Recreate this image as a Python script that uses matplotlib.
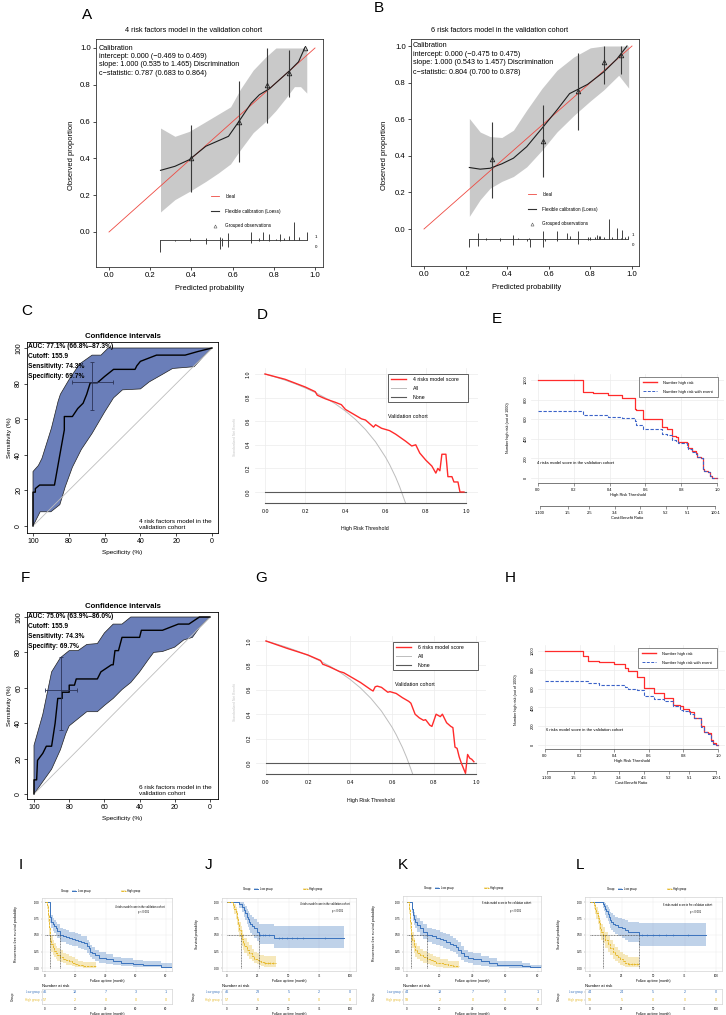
#!/usr/bin/env python3
import matplotlib
matplotlib.use('Agg')
import matplotlib.pyplot as plt
from matplotlib.lines import Line2D
from matplotlib.patches import Patch
import numpy as np

plt.rcParams['font.family'] = ['Liberation Sans', 'DejaVu Sans']
plt.rcParams['axes.linewidth'] = 0.6

W, H = 726, 1015

## ---------- data ----------
# A: calibration, 4 risk factors
a_band_x = [0.25, 0.32, 0.39, 0.47, 0.53, 0.59, 0.64, 0.70, 0.76, 0.81, 0.86, 0.90, 0.93, 0.96]
a_band_hi = [0.565, 0.52, 0.547, 0.60, 0.64, 0.68, 0.78, 0.88, 0.95, 1.0, 1.0, 1.0, 1.0, 1.0]
a_band_lo = [0.109, 0.176, 0.22, 0.275, 0.32, 0.37, 0.45, 0.54, 0.60, 0.66, 0.73, 0.79, 0.79, 0.755]
a_loess_x = [0.25, 0.32, 0.39, 0.47, 0.58, 0.63, 0.69, 0.73, 0.78, 0.83, 0.88, 0.92, 0.95]
a_loess_y = [0.335, 0.357, 0.393, 0.466, 0.52, 0.60, 0.70, 0.746, 0.78, 0.83, 0.88, 0.925, 1.0]
a_grp_x = [0.40, 0.632, 0.767, 0.876, 0.951]
a_grp_y = [0.40, 0.60, 0.80, 0.866, 1.0]
a_grp_lo = [0.22, 0.38, 0.595, 0.735, 1.0]
a_grp_hi = [0.58, 0.82, 1.0, 0.99, 1.0]
a_ev_x = [0.393, 0.469, 0.539, 0.55, 0.579, 0.689, 0.73, 0.749, 0.778, 0.81, 0.83, 0.85, 0.874, 0.90, 0.921, 0.96]
a_ev_h = [0.01, 0.01, 0.02, 0.01, 0.04, 0.045, 0.01, 0.045, 0.035, 0.005, 0.035, 0.015, 0.025, 0.098, 0.02, 0.045]
a_ne_x = [0.248, 0.32, 0.393, 0.469, 0.539, 0.55, 0.579, 0.689, 0.73, 0.778, 0.83]
a_ne_h = [0.065, 0.005, 0.005, 0.02, 0.045, 0.03, 0.035, 0.015, 0.005, 0.005, 0.005]
a_stats = ['Calibration', 'intercept: 0.000 (\u22120.469 to 0.469)',
           'slope: 1.000 (0.535 to 1.465) Discrimination', 'c\u2212statistic: 0.787 (0.683 to 0.864)']

# B: calibration, 6 risk factors
b_band_x = [0.218, 0.27, 0.318, 0.374, 0.43, 0.494, 0.567, 0.639, 0.72, 0.80, 0.864, 0.936, 0.984]
b_band_hi = [0.604, 0.53, 0.505, 0.50, 0.54, 0.65, 0.768, 0.867, 0.94, 0.99, 1.0, 1.0, 1.0]
b_band_lo = [0.069, 0.16, 0.223, 0.26, 0.287, 0.34, 0.43, 0.53, 0.62, 0.70, 0.76, 0.84, 0.77]
b_loess_x = [0.218, 0.27, 0.318, 0.374, 0.43, 0.494, 0.567, 0.639, 0.70, 0.738, 0.786, 0.864, 0.928, 0.976]
b_loess_y = [0.336, 0.327, 0.332, 0.356, 0.387, 0.45, 0.55, 0.65, 0.74, 0.762, 0.79, 0.858, 0.93, 1.0]
b_grp_x = [0.326, 0.570, 0.738, 0.864, 0.947]
b_grp_y = [0.381, 0.483, 0.755, 0.91, 0.95]
b_grp_lo = [0.169, 0.283, 0.54, 0.79, 0.846]
b_grp_hi = [0.586, 0.677, 0.964, 1.0, 1.0]
b_ev_x = [0.262, 0.30, 0.366, 0.43, 0.454, 0.507, 0.57, 0.639, 0.687, 0.70, 0.738, 0.79, 0.80, 0.823,
          0.83, 0.84, 0.848, 0.864, 0.888, 0.904, 0.928, 0.947, 0.95, 0.968, 0.98]
b_ev_h = [0.03, 0.005, 0.005, 0.02, 0.005, 0.005, 0.04, 0.04, 0.03, 0.015, 0.04, 0.01, 0.01, 0.01,
          0.02, 0.015, 0.015, 0.01, 0.11, 0.01, 0.06, 0.005, 0.05, 0.01, 0.015]
b_ne_x = [0.218, 0.262, 0.30, 0.366, 0.43, 0.494, 0.51, 0.57, 0.583, 0.639, 0.738, 0.79, 0.80]
b_ne_h = [0.045, 0.04, 0.005, 0.01, 0.035, 0.01, 0.045, 0.045, 0.01, 0.01, 0.03, 0.005, 0.005]
b_stats = ['Calibration', 'intercept: 0.000 (\u22120.475 to 0.475)',
           'slope: 1.000 (0.543 to 1.457) Discrimination', 'c\u2212statistic: 0.804 (0.700 to 0.878)']

# C / F: ROC curves (specificity %, sensitivity %)
c_spec = [100, 100, 98.7, 98.7, 96.3, 88, 85, 82.5, 82.5, 78, 75, 72, 70, 68, 64, 60, 55, 43, 42, 40, 31, 20, 15, 8, 0]
c_sens = [0, 19, 19, 21, 23, 23, 40, 54, 61.5, 61.5, 66, 69, 74, 80.5, 80.5, 84, 88, 88, 90, 92.5, 96, 96, 96, 98, 100]
c_up_spec = [100, 100, 97, 95, 89.7, 86, 84.7, 80, 74, 67, 62, 58, 0]
c_up_sens = [0, 30.6, 34, 38, 55, 70, 74, 82, 91, 96, 96, 100, 100]
c_lo_spec = [100, 96, 90, 85, 82, 78, 73, 67, 60, 55, 50, 40, 35, 28, 22, 10, 5, 0]
c_lo_sens = [0, 8, 8, 12, 22, 33, 43, 52, 64, 72, 76.5, 77, 81, 85, 88.5, 89.5, 95, 100]
c_cross = (67.3, 80.7, 55.5, 78.0, 65.3, 92.1)
c_text = ['AUC: 77.1% (66.8%\u201387.3%)', 'Cutoff: 155.9', 'Sensitivity: 74.3%', 'Specificity: 69.7%']

f_spec = [100, 100, 98.5, 98, 95, 93, 90, 88, 86.5, 84, 84, 80, 80, 77, 76, 64, 62, 56, 55, 54, 52, 50, 40, 39, 27, 18, 12, 6, 0]
f_sens = [0, 8, 8, 19, 23, 27, 27, 40, 54, 54, 57.5, 57.5, 61.5, 61.5, 65, 65, 69, 73, 73, 81, 81, 88.5, 88.5,
          92.5, 92.5, 96, 96, 100, 100]
f_up_spec = [100, 100, 95, 90, 85, 80, 75, 70, 64, 60, 55, 50, 45, 0]
f_up_sens = [0, 27.5, 45, 69, 77, 81, 81, 84.5, 85, 91, 96, 96, 100, 100]
f_lo_spec = [100, 95, 90, 85, 82, 80, 75, 70, 64, 60, 55, 50, 45, 40, 35, 32, 27, 20, 15, 10, 6, 3, 0]
f_lo_sens = [0, 7, 14, 25, 34, 38.5, 42.5, 46.5, 46.5, 50, 54, 59, 63, 69, 76, 80, 80.5, 83, 87, 88.5, 94, 97, 100]
f_cross = (84.4, 59.0, 75.6, 93.5, 36.0, 77.5)
f_text = ['AUC: 75.0% (63.9%\u201386.0%)', 'Cutoff: 155.9', 'Sensitivity: 74.3%', 'Specifity: 69.7%']

# D / G: decision curves
all_thr = [0, 0.05, 0.1, 0.15, 0.2, 0.25, 0.3, 0.35, 0.4, 0.45, 0.5, 0.55, 0.6, 0.62, 0.65, 0.67, 0.69, 0.70]
all_nb = [1.0, 0.975, 0.948, 0.917, 0.882, 0.843, 0.798, 0.747, 0.686, 0.615, 0.529, 0.425, 0.294, 0.232,
          0.126, 0.044, -0.05, -0.098]
none_thr = [0, 1]
none_nb = [0, 0]
d_thr = [0, 0.1, 0.2, 0.25, 0.26, 0.3, 0.35, 0.38, 0.40, 0.45, 0.48, 0.50, 0.54, 0.55, 0.58, 0.62, 0.65, 0.70,
         0.73, 0.75, 0.77, 0.80, 0.83, 0.85, 0.86, 0.87, 0.88, 0.90, 0.91, 0.93, 0.94, 0.96, 0.97, 0.99]
d_nb = [1.0, 0.955, 0.89, 0.85, 0.82, 0.79, 0.76, 0.74, 0.70, 0.65, 0.62, 0.61, 0.55, 0.57, 0.54, 0.52, 0.49,
        0.43, 0.39, 0.40, 0.33, 0.27, 0.22, 0.16, 0.20, 0.18, 0.32, 0.32, 0.13, 0.13, 0.085, 0.085, 0.0, 0.0]
g_thr = [0, 0.1, 0.2, 0.26, 0.27, 0.3, 0.35, 0.37, 0.4, 0.45, 0.5, 0.51, 0.52, 0.53, 0.55, 0.58, 0.59, 0.62,
         0.65, 0.68, 0.69, 0.71, 0.73, 0.75, 0.76, 0.78, 0.79, 0.81, 0.83, 0.84, 0.86, 0.88, 0.89, 0.90, 0.91,
         0.92, 0.93, 0.95, 0.96, 0.97, 0.98, 0.99]
g_nb = [1.0, 0.94, 0.885, 0.84, 0.81, 0.79, 0.75, 0.74, 0.71, 0.66, 0.60, 0.59, 0.625, 0.63, 0.62, 0.58, 0.585,
        0.57, 0.535, 0.505, 0.49, 0.40, 0.37, 0.35, 0.355, 0.31, 0.30, 0.40, 0.38, 0.40, 0.33, 0.30, 0.29, 0.13,
        0.12, 0.05, 0.0, -0.085, 0.07, 0.04, 0.03, 0.01]

# E / H: clinical impact curves (out of 1000)
e_thr = [0, 0.25, 0.31, 0.39, 0.47, 0.54, 0.55, 0.585, 0.69, 0.72, 0.75, 0.77, 0.78, 0.83, 0.84, 0.86, 0.88,
         0.89, 0.91, 0.92, 0.93, 0.95, 0.96, 0.97, 1.0]
e_high = [1000, 880, 870, 845, 815, 700, 690, 600, 520, 500, 430, 420, 370, 360, 310, 280, 260, 210, 200, 90,
          70, 60, 20, 0, 0]
e_event = [680, 640, 640, 625, 610, 580, 540, 505, 450, 440, 390, 380, 360, 320, 300, 270, 250, 210, 200, 90,
           70, 60, 20, 0, 0]
h_thr = [0, 0.22, 0.25, 0.31, 0.40, 0.46, 0.48, 0.53, 0.57, 0.63, 0.69, 0.74, 0.78, 0.80, 0.83, 0.84, 0.86,
         0.90, 0.92, 0.94, 0.96, 0.97, 0.99, 1.0]
h_high = [1000, 950, 890, 880, 860, 820, 790, 720, 610, 550, 500, 430, 420, 380, 360, 350, 290, 200, 140, 130,
          50, 20, 0, 0]
h_event = [680, 680, 660, 640, 640, 620, 600, 580, 520, 490, 470, 410, 370, 360, 350, 330, 290, 190, 140, 120,
           40, 10, 0, 0]
cb_pos = [0.0099, 0.1667, 0.2857, 0.4286, 0.5714, 0.7143, 0.8333, 0.9901]
cb_lab = ['1:100', '1:5', '2:5', '3:4', '4:3', '5:2', '5:1', '100:1']

# I-L: Kaplan-Meier curves
i_lt = [0, 3, 3.5, 4, 5, 6, 7, 8, 10, 12, 14, 16, 18, 20, 22, 24, 26, 28, 29, 30, 31, 33, 36, 40, 45, 50, 58, 65, 77, 84]
i_ls = [1.0, 0.90, 0.78, 0.70, 0.66, 0.63, 0.60, 0.56, 0.50, 0.49, 0.47, 0.45, 0.44, 0.43, 0.41, 0.39, 0.38, 0.33,
        0.30, 0.25, 0.22, 0.19, 0.15, 0.13, 0.10, 0.08, 0.06, 0.05, 0.02, 0.02]
i_lhi = [1.0, 0.97, 0.88, 0.80, 0.76, 0.73, 0.70, 0.66, 0.60, 0.59, 0.57, 0.55, 0.54, 0.53, 0.51, 0.49, 0.48, 0.43,
         0.40, 0.35, 0.32, 0.28, 0.24, 0.21, 0.17, 0.15, 0.12, 0.11, 0.07, 0.07]
i_llo = [1.0, 0.82, 0.68, 0.60, 0.56, 0.53, 0.50, 0.46, 0.40, 0.39, 0.37, 0.35, 0.34, 0.33, 0.31, 0.29, 0.28, 0.23,
         0.20, 0.16, 0.13, 0.11, 0.08, 0.06, 0.04, 0.03, 0.02, 0.01, 0.0, 0.0]
i_ht = [0, 1.5, 2, 2.5, 3, 3.5, 4, 5, 6, 7, 8, 10, 12, 14, 16, 18, 20, 22, 25, 34]
i_hs = [1.0, 0.95, 0.80, 0.62, 0.50, 0.42, 0.36, 0.30, 0.26, 0.22, 0.20, 0.17, 0.14, 0.12, 0.10, 0.08, 0.06, 0.04, 0.03, 0.03]
i_hhi = [1.0, 1.0, 0.90, 0.74, 0.63, 0.55, 0.49, 0.42, 0.38, 0.33, 0.30, 0.27, 0.23, 0.21, 0.18, 0.16, 0.13, 0.10, 0.09, 0.09]
i_hlo = [1.0, 0.90, 0.70, 0.50, 0.38, 0.30, 0.25, 0.20, 0.16, 0.13, 0.11, 0.09, 0.07, 0.05, 0.04, 0.03, 0.02, 0.01, 0.0, 0.0]
i_med = [10, 3]

j_lt = [0, 10, 12, 14, 15, 16, 17, 18, 19, 20, 22, 24, 26, 38, 95]
j_ls = [1.0, 0.97, 0.93, 0.88, 0.83, 0.78, 0.74, 0.70, 0.66, 0.64, 0.60, 0.55, 0.50, 0.46, 0.46]
j_lhi = [1.0, 1.0, 1.0, 0.97, 0.94, 0.90, 0.87, 0.84, 0.80, 0.78, 0.75, 0.70, 0.66, 0.63, 0.63]
j_llo = [1.0, 0.91, 0.85, 0.78, 0.72, 0.67, 0.62, 0.57, 0.53, 0.50, 0.46, 0.41, 0.37, 0.31, 0.31]
j_ht = [0, 5, 6, 7, 8, 9, 10, 11, 12, 13, 14, 16, 18, 20, 22, 24, 26, 28, 30, 40]
j_hs = [1.0, 0.95, 0.90, 0.83, 0.75, 0.66, 0.58, 0.50, 0.44, 0.38, 0.33, 0.28, 0.23, 0.18, 0.14, 0.12, 0.10, 0.09, 0.08, 0.08]
j_hhi = [1.0, 1.0, 0.97, 0.92, 0.86, 0.78, 0.70, 0.63, 0.57, 0.51, 0.46, 0.40, 0.35, 0.29, 0.25, 0.22, 0.20, 0.19, 0.18, 0.18]
j_hlo = [1.0, 0.89, 0.82, 0.74, 0.65, 0.55, 0.47, 0.39, 0.33, 0.27, 0.22, 0.18, 0.14, 0.10, 0.07, 0.06, 0.04, 0.03, 0.02, 0.02]
j_med = [26, 11]
j_cens_low = [27, 29, 31, 34, 42, 45, 49, 53, 57, 62, 80]
j_cens_high = [31, 33, 35, 37]

k_lt = [0, 3, 3.5, 4, 5, 6, 8, 10, 12, 15, 18, 20, 22, 24, 26, 28, 30, 31, 33, 35, 37, 40, 45, 50, 55, 62, 70, 75, 85]
k_ls = [1.0, 0.90, 0.80, 0.75, 0.70, 0.65, 0.60, 0.55, 0.50, 0.48, 0.46, 0.44, 0.42, 0.40, 0.37, 0.35, 0.32, 0.28,
        0.22, 0.18, 0.15, 0.13, 0.10, 0.08, 0.05, 0.04, 0.03, 0.01, 0.01]
k_lhi = [1.0, 0.97, 0.89, 0.85, 0.80, 0.76, 0.71, 0.66, 0.61, 0.59, 0.57, 0.55, 0.53, 0.51, 0.48, 0.46, 0.43, 0.39,
         0.33, 0.28, 0.25, 0.22, 0.18, 0.15, 0.11, 0.10, 0.08, 0.05, 0.05]
k_llo = [1.0, 0.83, 0.71, 0.65, 0.60, 0.54, 0.49, 0.44, 0.39, 0.37, 0.35, 0.33, 0.31, 0.29, 0.26, 0.24, 0.21, 0.17,
         0.12, 0.09, 0.07, 0.05, 0.03, 0.02, 0.01, 0.0, 0.0, 0.0, 0.0]
k_ht = [0, 1.5, 2, 2.5, 3, 4, 5, 6, 8, 10, 12, 14, 16, 18, 20, 22, 25, 28, 32]
k_hs = [1.0, 0.90, 0.70, 0.50, 0.42, 0.33, 0.27, 0.23, 0.19, 0.16, 0.14, 0.12, 0.10, 0.08, 0.07, 0.06, 0.04, 0.03, 0.03]
k_hhi = [1.0, 0.98, 0.81, 0.62, 0.54, 0.45, 0.38, 0.34, 0.29, 0.26, 0.23, 0.21, 0.18, 0.16, 0.14, 0.13, 0.11, 0.10, 0.10]
k_hlo = [1.0, 0.82, 0.59, 0.38, 0.30, 0.22, 0.17, 0.13, 0.10, 0.07, 0.06, 0.04, 0.03, 0.02, 0.01, 0.0, 0.0, 0.0, 0.0]
k_med = [12, 2.5]

l_lt = [0, 10, 11, 12, 13, 14, 15, 16, 17, 18, 20, 22, 25, 28, 30, 35, 39, 92]
l_ls = [1.0, 0.97, 0.94, 0.90, 0.86, 0.82, 0.78, 0.73, 0.70, 0.67, 0.65, 0.62, 0.60, 0.57, 0.55, 0.54, 0.50, 0.50]
l_lhi = [1.0, 1.0, 1.0, 0.98, 0.95, 0.92, 0.89, 0.85, 0.83, 0.80, 0.78, 0.76, 0.74, 0.72, 0.70, 0.69, 0.68, 0.68]
l_llo = [1.0, 0.91, 0.86, 0.81, 0.76, 0.71, 0.66, 0.61, 0.57, 0.54, 0.51, 0.48, 0.46, 0.42, 0.40, 0.39, 0.34, 0.34]
l_ht = [0, 3, 4, 5, 6, 7, 8, 9, 10, 12, 14, 16, 18, 20, 22, 24, 26, 28, 30, 39]
l_hs = [1.0, 0.95, 0.90, 0.83, 0.76, 0.68, 0.60, 0.55, 0.50, 0.42, 0.36, 0.30, 0.25, 0.20, 0.16, 0.13, 0.10, 0.08, 0.06, 0.06]
l_hhi = [1.0, 1.0, 0.97, 0.92, 0.86, 0.79, 0.72, 0.67, 0.62, 0.55, 0.48, 0.42, 0.37, 0.32, 0.27, 0.24, 0.21, 0.19, 0.17, 0.17]
l_hlo = [1.0, 0.89, 0.82, 0.74, 0.66, 0.57, 0.48, 0.43, 0.38, 0.30, 0.24, 0.19, 0.14, 0.10, 0.07, 0.05, 0.03, 0.02, 0.01, 0.01]
l_med = [39, 10]
l_cens_low = [41, 45, 50, 55, 60, 66, 78]
l_cens_high = [31, 33, 35, 37]

ticks_80 = [0, 20, 40, 60, 80]
ticks_100 = [0, 25, 50, 75, 100]
i_risk = ([46, 18, 7, 3, 1], [57, 2, 0, 0, 0])
j_risk = ([46, 23, 5, 2, 0], [57, 6, 0, 0, 0])
k_risk = ([44, 18, 7, 3, 1], [59, 2, 0, 0, 0])
l_risk = ([44, 24, 5, 2, 0], [59, 5, 0, 0, 0])

BLUE = '#3A73BD'
YEL = '#E6B92C'
RED = '#FF2B2B'

fig = plt.figure(figsize=(W / 100, H / 100), dpi=100)


def place(l, t, r, b, xmap, ymap):
    # axes from a pixel box; xmap/ymap = (pixel0, value0, pixel1, value1)
    ax = fig.add_axes([l / W, 1 - b / H, (r - l) / W, (b - t) / H])
    p0, v0, p1, v1 = xmap
    k = (v1 - v0) / (p1 - p0)
    ax.set_xlim(v0 + (l - p0) * k, v0 + (r - p0) * k)
    p0, v0, p1, v1 = ymap
    k = (v1 - v0) / (p1 - p0)
    ax.set_ylim(v0 + (b - p0) * k, v0 + (t - p0) * k)
    ax._box = (l, t, r, b)
    return ax


def ftext(x, y, s, **kw):
    kw.setdefault('va', 'center')
    return fig.text(x / W, 1 - y / H, s, **kw)


def fpos(x, y):
    return (x / W, 1 - y / H)


def label_at(axis, ax, x, y):
    l, t, r, b = ax._box
    axis.set_label_coords((x - l) / (r - l), (b - y) / (b - t))


## ---------- calibration ----------
def calib(ax, bx, blo, bhi, lx, ly, gx, gy, glo, ghi, evx, evh, nex, neh, base, leg):
    ax.fill_between(bx, blo, bhi, color='#C9C9C9', lw=0)
    ax.plot([0, 1], [0, 1], color='#EE4A42', lw=0.6)
    ax.plot(lx, ly, color='#1E1E1E', lw=0.8)
    ax.vlines(gx, glo, ghi, color='#3A3A3A', lw=0.8)
    ax.plot(gx, gy, '^', ms=3.3, mfc='none', mec='#222222', mew=0.6, ls='none')
    allx = evx + nex
    ax.plot([min(allx), max(allx)], [base, base], color='#333333', lw=0.6)
    ax.vlines(evx, base, np.asarray(evh) + base, color='#222222', lw=0.6)
    ax.vlines(nex, base - np.asarray(neh), base, color='#222222', lw=0.6)
    ax.text(1.0, base + 0.02, '1', fontsize=3.2, ha='left', va='center')
    ax.text(1.0, base - 0.035, '0', fontsize=3.2, ha='left', va='center')
    ax.set_xticks(np.arange(0, 1.01, 0.2))
    ax.set_yticks(np.arange(0, 1.01, 0.2))
    ax.xaxis.set_major_formatter('{x:.1f}')
    ax.yaxis.set_major_formatter('{x:.1f}')
    ax.tick_params(labelsize=5.6, length=2.2, width=0.5, pad=1.5)
    for s in ax.spines.values():
        s.set_color('#333333')
    h = [Line2D([], [], color='#EE4A42', lw=0.6), Line2D([], [], color='#333333', lw=0.8),
         Line2D([], [], marker='^', ms=2.2, mfc='none', mec='#555555', mew=0.4, ls='none')]
    ax.legend(h, ['Ideal', 'Flexible calibration (Loess)', 'Grouped observations'], loc='upper left',
              bbox_to_anchor=fpos(*leg), bbox_transform=fig.transFigure, frameon=False, fontsize=3.3,
              handlelength=1.8, handletextpad=1.3, labelspacing=2.1, borderaxespad=0, borderpad=0)


ax = place(96, 39, 323, 267, (109, 0, 315, 1), (232, 0, 48, 1))
calib(ax, a_band_x, a_band_lo, a_band_hi, a_loess_x, a_loess_y, a_grp_x, a_grp_y, a_grp_lo, a_grp_hi,
      a_ev_x, a_ev_h, a_ne_x, a_ne_h, -0.045, (211, 194))
ax.set_xlabel('Predicted probability', fontsize=5.4)
ax.set_ylabel('Observed proportion', fontsize=5.4)
label_at(ax.xaxis, ax, 210, 285)
label_at(ax.yaxis, ax, 75, 155)
ftext(194, 30, '4 risk factors model in the validation cohort', fontsize=5.2, ha='center')
for i, s in enumerate(a_stats):
    ftext(99, 48 + i * 8.4, s, fontsize=5.2)

ax = place(411, 39, 639, 266, (424, 0, 632, 1), (229, 0, 46, 1))
calib(ax, b_band_x, b_band_lo, b_band_hi, b_loess_x, b_loess_y, b_grp_x, b_grp_y, b_grp_lo, b_grp_hi,
      b_ev_x, b_ev_h, b_ne_x, b_ne_h, -0.053, (528, 192))
ax.set_xlabel('Predicted probability', fontsize=5.4)
ax.set_ylabel('Observed proportion', fontsize=5.4)
label_at(ax.xaxis, ax, 527, 284)
label_at(ax.yaxis, ax, 388, 155)
ftext(500, 30, '6 risk factors model in the validation cohort', fontsize=5.2, ha='center')
for i, s in enumerate(b_stats):
    ftext(413, 45 + i * 9, s, fontsize=5.2)


## ---------- ROC ----------
def roc(ax, spec, sens, us, uv, ls, lv, cross, lines, note, top):
    ax.fill(us + ls[::-1], uv + lv[::-1], facecolor='#6A7EB9', edgecolor='#1F1F1F', lw=0.5)
    ax.plot([100, 0], [0, 100], color='#BDBDBD', lw=0.6)
    ax.plot(spec, sens, color='black', lw=1.0)
    cx, cy, xl, xh, yl, yh = cross
    ax.errorbar([cx], [cy], xerr=[[cx - xl], [xh - cx]], yerr=[[cy - yl], [yh - cy]], fmt='none',
                ecolor='#2B3357', elinewidth=0.6, capsize=1.5, capthick=0.6)
    ax.set_xticks([100, 80, 60, 40, 20, 0])
    ax.set_yticks([0, 20, 40, 60, 80, 100])
    ax.tick_params(labelsize=5.0, length=2, width=0.5, pad=1.5)
    for t in ax.get_yticklabels():
        t.set_rotation(90)
        t.set_va('center')
    ax.set_title('Confidence intervals', fontsize=5.6, fontweight='bold', pad=3)
    ax.set_xlabel('Specificity (%)', fontsize=4.6)
    ax.set_ylabel('Sensitivity (%)', fontsize=4.6, labelpad=2)
    l, t, r, b = ax._box
    for i, s in enumerate(lines):
        ftext(l + 1.5, top + i * 9.7, s, fontsize=4.8, fontweight='bold')
    ftext(139, b - 14, note, fontsize=4.6, va='top', linespacing=1.15)


ax = place(27, 342, 218, 533, (33, 100, 212, 0), (526, 0, 348, 100))
roc(ax, c_spec, c_sens, c_up_spec, c_up_sens, c_lo_spec, c_lo_sens, c_cross, c_text,
    '4 risk factors model in the\nvalidation cohort', 347)
ax = place(27, 612, 218, 799, (34, 100, 210, 0), (794, 0, 617, 100))
roc(ax, f_spec, f_sens, f_up_spec, f_up_sens, f_lo_spec, f_lo_sens, f_cross, f_text,
    '6 risk factors model in the\nvalidation cohort', 617)


## ---------- decision curves ----------
def dca(ax, thr, nb, name, leg, note):
    for g in np.arange(0, 1.01, 0.2):
        ax.axvline(g, color='#ECECEC', lw=0.5, zorder=0)
        ax.axhline(g, color='#ECECEC', lw=0.5, zorder=0)
    ax.plot(all_thr, all_nb, color='#BDBDBD', lw=0.7)
    ax.plot(none_thr, none_nb, color='#595959', lw=0.8)
    ax.plot(thr, nb, color=RED, lw=1.0)
    for s in ('top', 'right', 'left'):
        ax.spines[s].set_visible(False)
    ax.spines['bottom'].set_bounds(0, 1)
    ax.spines['bottom'].set_color('#555555')
    ax.spines['bottom'].set_linewidth(0.8)
    ax.set_xticks(np.arange(0, 1.01, 0.2))
    ax.set_yticks(np.arange(0, 1.01, 0.2))
    ax.xaxis.set_major_formatter('{x:.1f}')
    ax.yaxis.set_major_formatter('{x:.1f}')
    ax.tick_params(axis='x', labelsize=3.8, length=0, pad=4)
    ax.tick_params(axis='y', labelsize=3.8, length=0, pad=3, labelrotation=90)
    for t in ax.get_yticklabels():
        t.set_va('center')
    ax.set_xlabel('High Risk Threshold', fontsize=3.8)
    ax.set_ylabel('Standardized Net Benefit', fontsize=2.4, color='#C4C4C4')
    h = [Line2D([], [], color=RED, lw=1.0), Line2D([], [], color='#BDBDBD', lw=0.7),
         Line2D([], [], color='#595959', lw=0.8)]
    lg = ax.legend(h, [name, 'All', 'None'], loc='upper left', mode='expand',
                   bbox_to_anchor=(leg[0] / W, 1 - leg[3] / H, (leg[2] - leg[0]) / W, (leg[3] - leg[1]) / H),
                   bbox_transform=fig.transFigure, fancybox=False, framealpha=1, edgecolor='#444444',
                   fontsize=3.8, handlelength=3.0, handletextpad=1.2, labelspacing=0.75, borderpad=0.5,
                   borderaxespad=0)
    lg.get_frame().set_linewidth(0.6)
    ftext(note[0], note[1], 'Validation cohort', fontsize=3.8)


ax = place(255, 368, 478, 503, (265, 0, 466, 1), (492, 0, 374, 1))
dca(ax, d_thr, d_nb, '4 risks model score', (388, 374, 468, 406), (388, 417))
label_at(ax.xaxis, ax, 365, 526)
label_at(ax.yaxis, ax, 237, 437)
ax = place(256, 636, 486, 774, (266, 0, 476, 1), (763, 0, 641, 1))
dca(ax, g_thr, g_nb, '6 risks model score', (393, 642, 478, 674), (395, 684))
label_at(ax.xaxis, ax, 371, 798)
label_at(ax.yaxis, ax, 237, 702)


## ---------- clinical impact ----------
def impact(ax, thr, nh, ne, leg, note, gap):
    for g in np.arange(0, 1.01, 0.2):
        ax.axvline(g, color='#ECECEC', lw=0.5, zorder=0)
    for g in range(0, 1001, 200):
        ax.axhline(g, color='#ECECEC', lw=0.5, zorder=0)
    ax.step(thr, nh, where='post', color=RED, lw=0.9)
    ax.step(thr, ne, where='post', color='#3B62C8', lw=0.8, ls=(0, (3, 1.5)))
    for s in ('top', 'right', 'left'):
        ax.spines[s].set_visible(False)
    ax.spines['bottom'].set_bounds(0, 1)
    ax.spines['bottom'].set_color('#444444')
    ax.spines['bottom'].set_linewidth(0.5)
    ax.set_xticks(np.arange(0, 1.01, 0.2))
    ax.xaxis.set_major_formatter('{x:.1f}')
    ax.set_yticks(range(0, 1001, 200))
    ax.tick_params(axis='x', labelsize=2.9, length=1.8, width=0.4, pad=1.5, color='#444444')
    ax.tick_params(axis='y', labelsize=2.9, length=0, pad=2.5, labelrotation=90)
    for t in ax.get_yticklabels():
        t.set_va('center')
    ax.set_xlabel('High Risk Threshold', fontsize=2.9, labelpad=1)
    ax.set_ylabel('Number high risk (out of 1000)', fontsize=2.7)
    l, t, r, b = ax._box
    sec = ax.secondary_xaxis(-gap / (b - t))
    sec.set_xticks(cb_pos, labels=cb_lab)
    sec.tick_params(labelsize=2.9, length=1.8, width=0.4, pad=1.5, color='#444444')
    sec.spines['bottom'].set_bounds(cb_pos[0], cb_pos[-1])
    sec.spines['bottom'].set_linewidth(0.5)
    sec.spines['bottom'].set_color('#444444')
    sec.set_xlabel('Cost:Benefit Ratio', fontsize=2.9, labelpad=1)
    h = [Line2D([], [], color=RED, lw=1.0), Line2D([], [], color='#3B62C8', lw=0.7, ls=(0, (3, 1.5)))]
    lg = ax.legend(h, ['Number high risk', 'Number high risk with event'], loc='upper left', mode='expand',
                   bbox_to_anchor=(leg[0] / W, 1 - leg[3] / H, (leg[2] - leg[0]) / W, (leg[3] - leg[1]) / H),
                   bbox_transform=fig.transFigure, fancybox=False, framealpha=1, edgecolor='#555555',
                   fontsize=2.9, handlelength=3.5, handletextpad=1.6, labelspacing=1.3, borderpad=0.9,
                   borderaxespad=0)
    lg.get_frame().set_linewidth(0.5)
    ftext(note[0], note[1], note[2], fontsize=3.0)


ax = place(531, 374, 724, 483, (538, 0, 717, 1), (478, 0, 380, 1000))
impact(ax, e_thr, e_high, e_event, (639, 377, 718, 402), (537, 463, '4 risks model score in the validation cohort'), 23)
label_at(ax.yaxis, ax, 510, 428)
ax = place(538, 645, 725, 749, (545, 0, 718, 1), (745, 0, 651, 1000))
impact(ax, h_thr, h_high, h_event, (638, 648, 717, 675), (546, 730, '6 risks model score in the validation cohort'), 22)
label_at(ax.yaxis, ax, 518, 700)


## ---------- Kaplan-Meier ----------
def km(ax, lt, ls, llo, lhi, ht, hs, hlo, hhi, meds, lc, hc, xt, note, ylab, ylx, keys):
    ax.fill_between(lt, llo, lhi, step='post', color=BLUE, alpha=0.32, lw=0)
    ax.fill_between(ht, hlo, hhi, step='post', color=YEL, alpha=0.32, lw=0)
    ax.step(lt, ls, where='post', color=BLUE, lw=0.7)
    ax.step(ht, hs, where='post', color=YEL, lw=0.7, ls=(0, (2.5, 1)))
    for ct, t, s, c in ((lc, lt, ls, BLUE), (hc, ht, hs, YEL)):
        if ct:
            idx = np.searchsorted(t, ct, side='right') - 1
            ax.plot(ct, np.asarray(s)[idx], '+', color=c, ms=1.8, mew=0.4, ls='none')
    ax.plot([0, max(meds)], [0.5, 0.5], ls=(0, (1.5, 1)), color='#333333', lw=0.45)
    ax.vlines(meds, 0, 0.5, linestyles=(0, (1.5, 1)), colors='#333333', lw=0.45)
    ax.set_xticks(xt)
    ax.set_yticks([0, 0.25, 0.5, 0.75, 1.0])
    ax.yaxis.set_major_formatter('{x:.2f}')
    ax.grid(color='#EBEBEB', lw=0.35)
    ax.set_axisbelow(True)
    for s in ax.spines.values():
        s.set_color('#C8C8C8')
        s.set_linewidth(0.4)
    ax.tick_params(labelsize=2.1, length=1, width=0.3, pad=1, color='#888888')
    ax.set_xlabel('Follow up time (month)', fontsize=2.4, labelpad=1)
    ax.set_ylabel(ylab, fontsize=2.5)
    l, t, r, b = ax._box
    label_at(ax.yaxis, ax, ylx, (t + b) / 2)
    ftext(note[0], note[1], note[2], fontsize=1.9, ha='center')
    ftext(note[3], note[4], 'p < 0.001', fontsize=1.9, ha='center')
    gx, gy = keys
    ftext(gx, gy, 'Group', fontsize=2.2)
    h = [(Patch(facecolor=BLUE, alpha=0.32, lw=0), Line2D([], [], color=BLUE, lw=0.7)),
         (Patch(facecolor=YEL, alpha=0.32, lw=0), Line2D([], [], color=YEL, lw=0.7, ls=(0, (2.5, 1))))]
    ax.legend(h, ['Low group', 'High group'], loc='center left', ncol=2, bbox_to_anchor=fpos(gx + 11, gy),
              bbox_transform=fig.transFigure, frameon=False, fontsize=2.0, handlelength=1.6,
              handleheight=1.2, handletextpad=0.6, columnspacing=11, borderaxespad=0, borderpad=0)


def risk(ax, xt, nums, glx):
    low, high = nums
    for x, n in zip(xt, low):
        ax.text(x, 2, str(n), color=BLUE, ha='center', va='center', fontsize=2.7)
    for x, n in zip(xt, high):
        ax.text(x, 1, str(n), color=YEL, ha='center', va='center', fontsize=2.7)
    ax.set_xticks(xt)
    ax.set_yticks([1, 2])
    ax.set_yticklabels(['High group', 'Low group'])
    ax.get_yticklabels()[0].set_color(YEL)
    ax.get_yticklabels()[1].set_color(BLUE)
    for s in ax.spines.values():
        s.set_color('#C8C8C8')
        s.set_linewidth(0.4)
    ax.tick_params(labelsize=2.1, length=1, width=0.3, pad=1, color='#888888')
    ax.set_title('Number at risk', loc='left', fontsize=3.1, pad=1.5)
    ax.set_xlabel('Follow up time (month)', fontsize=2.4, labelpad=1)
    ax.set_ylabel('Group', fontsize=2.4)
    l, t, r, b = ax._box
    label_at(ax.yaxis, ax, glx, (t + b) / 2)


panels = [
    (42, 172, (45, 0, 166, 80), (i_lt, i_ls, i_llo, i_lhi, i_ht, i_hs, i_hlo, i_hhi), i_med, [], [], ticks_80,
     (140, 907, '4 risks model score in the validation cohort', 143, 912), 'Recurrence-free survival probability',
     18, (61, 891), i_risk, 15, 898),
    (222, 356, (227, 0, 350, 100), (j_lt, j_ls, j_llo, j_lhi, j_ht, j_hs, j_hlo, j_hhi), j_med, j_cens_low,
     j_cens_high, ticks_100, (325, 904, '4 risks model score in the validation cohort', 337, 911),
     'Survival probability', 199, (243, 889), j_risk, 196, 898),
    (403, 541, (407, 0, 538, 80), (k_lt, k_ls, k_llo, k_lhi, k_ht, k_hs, k_hlo, k_hhi), k_med, [], [], ticks_80,
     (507, 903, '6 risks model score in the validation cohort', 515, 911), 'Recurrence-free survival probability',
     376, (424, 888), k_risk, 376, 896),
    (585, 722, (590, 0, 716, 100), (l_lt, l_ls, l_llo, l_lhi, l_ht, l_hs, l_hlo, l_hhi), l_med, l_cens_low,
     l_cens_high, ticks_100, (688, 905, '6 risks model score in the validation cohort', 696, 912),
     'Survival probability', 561, (607, 889), l_risk, 561, 897),
]
for l, r, xm, curves, med, lc, hc, xt, note, ylab, ylx, keys, nums, glx, top in panels:
    ax = place(l, top, r, 971, xm, (968, 0, 902, 1))
    km(ax, *curves, med, lc, hc, xt, note, ylab, ylx, keys)
    ax2 = place(l, 989, r, 1004, xm, (1000, 1, 992, 2))
    risk(ax2, xt, nums, glx)

## ---------- panel letters ----------
for s, x, y in [('A', 82, 15), ('B', 374, 8), ('C', 21, 311), ('D', 257, 315), ('E', 492, 319),
                ('F', 21, 578), ('G', 255, 578), ('H', 505, 578), ('I', 19, 865), ('J', 205, 865),
                ('K', 398, 865), ('L', 576, 865)]:
    ftext(x, y, s, fontsize=11)

fig.savefig('out.png', dpi=100)
